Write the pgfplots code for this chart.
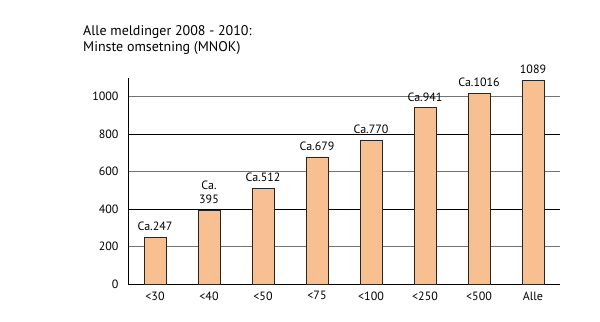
\documentclass[border=0pt]{standalone}
\usepackage{pgfplots}
\pgfplotsset{compat=1.18}
\usepackage{fontspec}
\setmainfont{PT Sans}
\definecolor{barfill}{RGB}{248,192,144}
\begin{document}
\begin{tikzpicture}[x=1bp,y=1bp]
\useasboundingbox (0,0) rectangle (600,321);
\node[anchor=north west,align=left,inner sep=0pt,font=\fontsize{14bp}{16.5bp}\selectfont] at (83,296) {Alle meldinger 2008 - 2010:\\Minste omsetning (MNOK)};
\begin{axis}[
  at={(128bp,37bp)}, anchor=south west,
  scale only axis, width=432bp, height=206bp,
  xmin=-0.5, xmax=7.5, ymin=0, ymax=1100,
  axis x line=bottom, axis y line=left,
  axis line style={-, black, line width=0.8pt},
  xtick={0,...,7},
  xticklabels={<30,<40,<50,<75,<100,<250,<500,Alle},
  ytick={0,200,600,1000},
  extra y ticks={400,800},
  extra y tick style={grid style={black, line width=0.6pt}},
  ymajorgrids, grid style={black!55, line width=0.8pt},
  major tick length=0pt,
  tick label style={font=\fontsize{12bp}{14bp}\selectfont},
  yticklabel style={xshift=-6bp},
  xticklabel style={yshift=-4bp},
  /pgf/number format/assume math mode=true,
  /pgf/number format/1000 sep={},
  clip=false,
]
\addplot[ybar, bar width=22bp, fill=barfill, draw=black!85, line width=0.6pt,
  point meta=explicit symbolic,
  nodes near coords,
  every node near coord/.append style={font=\fontsize{12bp}{14bp}\selectfont, align=center, anchor=south, yshift=3bp}]
coordinates {
 (0,247) [Ca.247]
 (1,395) [Ca.\\395]
 (2,512) [Ca.512]
 (3,679) [Ca.679]
 (4,770) [Ca.770]
 (5,941) [Ca.941]
 (6,1016) [Ca.1016]
 (7,1089) [1089]
};
\end{axis}
\end{tikzpicture}
\end{document}
